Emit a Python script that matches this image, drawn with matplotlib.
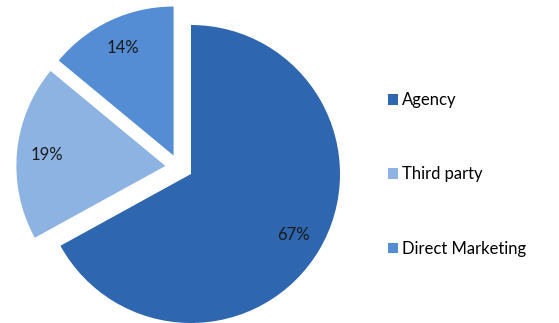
import matplotlib
matplotlib.use("Agg")
import matplotlib.pyplot as plt
from matplotlib.patches import Patch

# Kanal payları
labels = ["Agency", "Third party", "Direct Marketing"]
shares = [67, 19, 14]
colors = ["#2F66B0", "#8DB3E2", "#548DD4"]
# Dilim kaydırmaları (yarıçap birimi, x, y)
offsets = [(0, 0), (-0.172, 0.054), (-0.117, 0.124)]

plt.rcParams["font.family"] = ["Lato", "DejaVu Sans"]

fig = plt.figure(figsize=(5.59, 3.23), dpi=100)
ax = fig.add_axes([0, 0, 1, 1])

wedges, texts, autotexts = ax.pie(
    shares, colors=colors, startangle=90, counterclock=False,
    autopct="%d%%", pctdistance=0.8,
    textprops={"fontsize": 12, "color": "#1a1a1a"})

for w, t, (dx, dy) in zip(wedges, autotexts, offsets):
    w.set_center((dx, dy))
    x, y = t.get_position()
    t.set_position((x + dx, y + dy))

# Pasta merkezi görüntüde yaklaşık (191, 174), yarıçap ~149 px
ax.set_xlim(-191 / 149, (559 - 191) / 149)
ax.set_ylim(-(323 - 174) / 149, 174 / 149)
ax.set_aspect("auto")
ax.axis("off")

handles = [Patch(facecolor=c, edgecolor="none") for c in colors]
fig.legend(handles, labels, loc="center left", bbox_to_anchor=(0.682, 0.46),
           frameon=False, fontsize=12, labelspacing=3.5,
           handlelength=0.6, handleheight=0.6, handletextpad=0.25,
           borderaxespad=0)

fig.savefig("out.png", dpi=100)
